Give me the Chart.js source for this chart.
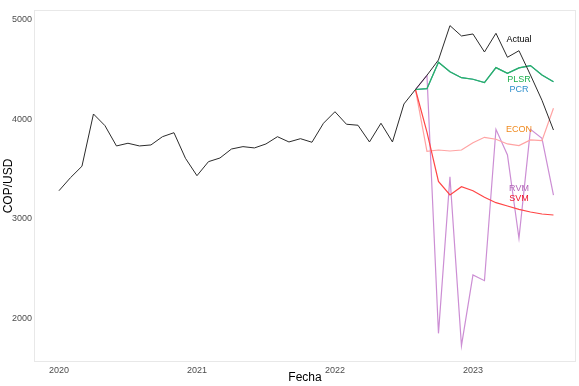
<!DOCTYPE html>
<html>
<head>
<meta charset="utf-8">
<script src="https://cdn.jsdelivr.net/npm/chart.js@4/dist/chart.umd.min.js"></script>
<style>
  body { margin: 0; background: #fff; }
</style>
</head>
<body>
<canvas id="grafico" width="579" height="386"></canvas>
<script>
// Serie real COP/USD, mensual desde ene-2020
const actual = [3281, 3412, 3527, 4052, 3935, 3731, 3758, 3731, 3741, 3824, 3864, 3607,
                3432, 3573, 3610, 3700, 3724, 3711, 3751, 3824, 3771, 3804, 3768, 3959,
                4075, 3949, 3939, 3771, 3959, 3771, 4153, 4298, 4441, 4595, 4940, 4836,
                4856, 4675, 4863, 4622, 4688, 4444, 4190, 3891];

// pronosticos: arrancan en el mes 31 (ago-2022)
const inicioPronostico = 31;
const plsr = [4298, 4307, 4572, 4477, 4417, 4401, 4367, 4518, 4461, 4515, 4538, 4444, 4377];
const pcr  = [4298, 4307, 4572, 4477, 4417, 4401, 4367, 4518, 4461, 4515, 4538, 4444, 4377];
const econ = [4298, 3676, 3690, 3680, 3690, 3764, 3818, 3798, 3751, 3734, 3791, 3784, 4110];
const svm  = [4298, 3870, 3374, 3238, 3322, 3281, 3215, 3161, 3128, 3094, 3067, 3047, 3037];
const rvm  = [4298, 4441, 1848, 3422, 1724, 2434, 2377, 3898, 3640, 2803, 3898, 3808, 3238];

const anios = [2020, 2021, 2022, 2023];
const ticksY = [2000, 3000, 4000, 5000];

// etiquetas de texto al final de las lineas (mes, valor)
const etiquetas = [
  { txt: 'Actual', x: 40, y: 4796, color: '#000000' },
  { txt: 'PLSR',   x: 40, y: 4394, color: '#1DB04F' },
  { txt: 'PCR',    x: 40, y: 4300, color: '#2E8FCC' },
  { txt: 'ECON',   x: 40, y: 3898, color: '#F08A1E' },
  { txt: 'RVM',    x: 40, y: 3305, color: '#B266B8' },
  { txt: 'SVM',    x: 40, y: 3198, color: '#F0142B' }
];

let puntos = function(valores, desde){
  return valores.map((v, i) => ({ x: desde + i, y: v }));
};

let serie = function(nombre, valores, desde, color, ancho){
  return {
    label: nombre,
    data: puntos(valores, desde),
    borderColor: color,
    borderWidth: ancho,
    pointRadius: 0,
    tension: 0,
    fill: false
  };
};

const fuente = "'Liberation Sans', Arial, sans-serif";

const bordeYEtiquetas = {
  id: 'bordeYEtiquetas',
  beforeDatasetsDraw(chart){
    const ca = chart.chartArea;
    const ctx = chart.ctx;
    ctx.save();
    ctx.strokeStyle = '#e8e8e8';
    ctx.lineWidth = 1;
    ctx.strokeRect(ca.left + 0.5, ca.top + 0.5, ca.right - ca.left - 1, ca.bottom - ca.top - 1);
    ctx.restore();
  },
  afterDatasetsDraw(chart){
    const ctx = chart.ctx;
    const sx = chart.scales.x, sy = chart.scales.y;
    ctx.save();
    ctx.font = '9px ' + fuente;
    ctx.textAlign = 'center';
    ctx.textBaseline = 'middle';
    etiquetas.forEach(e => {
      ctx.fillStyle = e.color;
      ctx.fillText(e.txt, sx.getPixelForValue(e.x), sy.getPixelForValue(e.y));
    });
    ctx.restore();
  }
};

let ctx = document.getElementById('grafico').getContext('2d');
let chart = new Chart(ctx, {
  type: 'line',
  data: {
    datasets: [
      // el primero se dibuja encima
      serie('Actual', actual, 0, '#2b2b2b', 1),
      serie('PLSR', plsr, inicioPronostico, '#2DB35E', 1.2),
      serie('PCR', pcr, inicioPronostico, '#3A9AD9', 1.2),
      serie('SVM', svm, inicioPronostico, '#FF4545', 1.2),
      serie('ECON', econ, inicioPronostico, '#FFA3A3', 1.2),
      serie('RVM', rvm, inicioPronostico, '#CC8ED4', 1.2)
    ]
  },
  options: {
    responsive: false,
    animation: false,
    devicePixelRatio: 1,
    layout: { padding: { top: 10, right: 3, left: 0, bottom: 0 } },
    plugins: { legend: { display: false }, tooltip: { enabled: false } },
    scales: {
      x: {
        type: 'linear',
        min: -2.17,
        max: 44.96,
        grid: { display: false, drawTicks: false },
        border: { display: false },
        afterBuildTicks: (s) => { s.ticks = anios.map(a => ({ value: (a - 2020) * 12 })); },
        afterFit: (s) => { s.height = 24; },
        ticks: {
          color: '#4d4d4d',
          font: { size: 9, family: fuente },
          padding: 3,
          maxRotation: 0,
          callback: (v) => String(2020 + Math.round(v / 12))
        },
        title: {
          display: true,
          text: 'Fecha',
          color: '#000',
          font: { size: 12, family: fuente },
          padding: { top: 0, bottom: 1 }
        }
      },
      y: {
        min: 1560,
        max: 5097,
        grid: { display: false, drawTicks: false },
        border: { display: false },
        afterBuildTicks: (s) => { s.ticks = ticksY.map(v => ({ value: v })); },
        afterFit: (s) => { s.width = 34; },
        ticks: {
          color: '#4d4d4d',
          font: { size: 9, family: fuente },
          padding: 2,
          callback: (v) => String(v)
        },
        title: {
          display: true,
          text: 'COP/USD',
          color: '#000',
          font: { size: 12, family: fuente },
          padding: { top: 1, bottom: 0 }
        }
      }
    }
  },
  plugins: [bordeYEtiquetas]
});
</script>
</body>
</html>
